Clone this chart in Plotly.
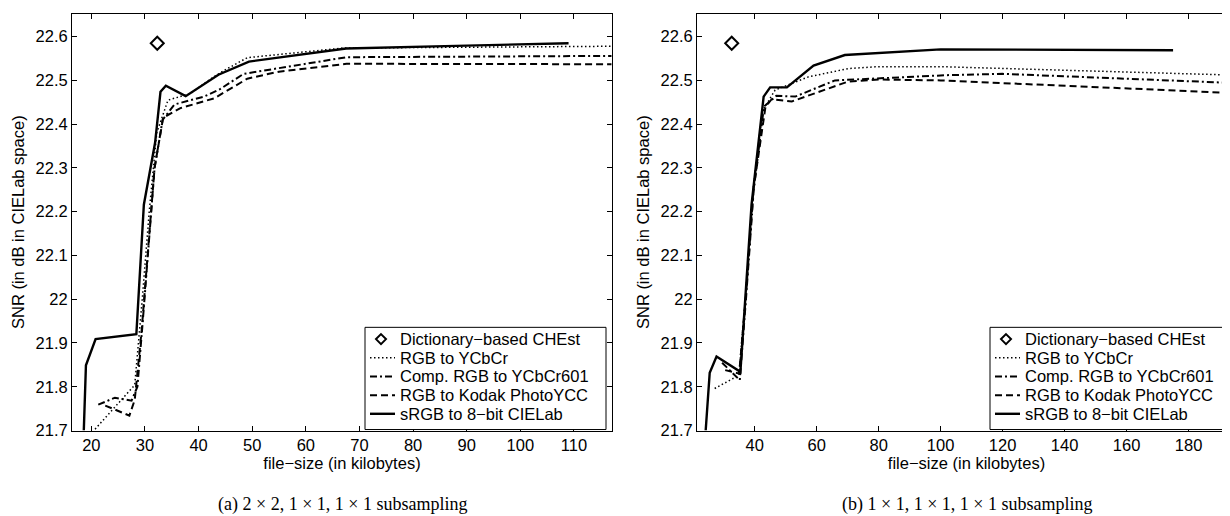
import plotly.graph_objects as go

# ---------------- Panel (a): 2x2, 1x1, 1x1 subsampling ----------------
a_dict_x = [32.3]
a_dict_y = [22.585]

a_ycbcr_x = [20.7, 24.5, 28.1, 29.5, 30.8, 32.2, 34.3, 38.5, 42.2, 44.8, 49.1, 67.0, 117.0]
a_ycbcr_y = [21.703, 21.755, 21.804, 22.0, 22.2, 22.38, 22.455, 22.47, 22.503, 22.523, 22.552, 22.574, 22.578]

a_comp_x = [21.3, 24.4, 27.5, 28.6, 29.6, 30.6, 31.8, 33.3, 35.5, 41.0, 44.0, 48.4, 55.0, 67.6, 117.0]
a_comp_y = [21.759, 21.775, 21.768, 21.80, 21.95, 22.10, 22.30, 22.41, 22.445, 22.463, 22.48, 22.515, 22.528, 22.553, 22.556]

a_kodak_x = [22.6, 27.1, 28.1, 29.4, 30.5, 31.8, 33.4, 36.7, 42.9, 49.1, 55.0, 67.6, 117.0]
a_kodak_y = [21.757, 21.734, 21.77, 21.93, 22.10, 22.30, 22.415, 22.437, 22.459, 22.504, 22.52, 22.538, 22.537]

a_lab_x = [18.6, 19.0, 20.8, 28.4, 29.8, 31.9, 32.9, 33.9, 37.6, 43.7, 49.4, 67.5, 88.0, 109.0]
a_lab_y = [21.70, 21.849, 21.909, 21.92, 22.216, 22.358, 22.474, 22.488, 22.464, 22.513, 22.543, 22.573, 22.579, 22.585]

# ---------------- Panel (b): 1x1, 1x1, 1x1 subsampling ----------------
b_dict_x = [32.6]
b_dict_y = [22.585]

b_ycbcr_x = [27.1, 34.9, 37.0, 39.5, 42.5, 44.5, 46.6, 57.3, 70.2, 78.8, 102.0, 195.0]
b_ycbcr_y = [21.796, 21.826, 22.0, 22.25, 22.43, 22.455, 22.478, 22.508, 22.527, 22.531, 22.531, 22.512]

b_comp_x = [29.5, 35.2, 37.2, 39.7, 43.0, 47.0, 53.1, 60.5, 65.9, 102.0, 120.0, 195.0]
b_comp_y = [21.855, 21.815, 22.0, 22.25, 22.44, 22.465, 22.463, 22.485, 22.50, 22.512, 22.515, 22.494]

b_kodak_x = [30.5, 35.0, 37.1, 39.6, 43.5, 45.5, 52.0, 62.0, 70.0, 80.0, 100.0, 195.0]
b_kodak_y = [21.838, 21.83, 22.0, 22.25, 22.44, 22.457, 22.452, 22.478, 22.497, 22.502, 22.50, 22.471]

b_lab_x = [24.2, 25.5, 27.7, 35.4, 39.0, 42.9, 45.0, 50.4, 59.0, 69.1, 100.0, 120.0, 175.0]
b_lab_y = [21.70, 21.832, 21.869, 21.834, 22.216, 22.463, 22.484, 22.484, 22.534, 22.558, 22.571, 22.570, 22.569]

series_names = ["Dictionary\u2212based CHEst", "RGB to YCbCr", "Comp. RGB to YCbCr601",
                "RGB to Kodak PhotoYCC", "sRGB to 8\u2212bit CIELab"]

y_ticks = [21.7, 21.8, 21.9, 22.0, 22.1, 22.2, 22.3, 22.4, 22.5, 22.6]
y_ticktext = ["21.7", "21.8", "21.9", "22", "22.1", "22.2", "22.3", "22.4", "22.5", "22.6"]
a_x_ticks = [20, 30, 40, 50, 60, 70, 80, 90, 100, 110]
b_x_ticks = [40, 60, 80, 100, 120, 140, 160, 180]

captions = ["(a) 2 \u00d7 2, 1 \u00d7 1, 1 \u00d7 1 subsampling",
            "(b) 1 \u00d7 1, 1 \u00d7 1, 1 \u00d7 1 subsampling"]

FONT = "Liberation Sans, Arial, Helvetica, sans-serif"
FS = 16.5
W, H = 1230, 516
styles = [
    dict(dash="1.5px,2.5px", width=1.5),
    dict(dash="7px,3px,2px,3px", width=2),
    dict(dash="7px,4px", width=2),
    dict(dash="solid", width=2.4),
]

fig = go.Figure()

panels = [
    ("x", "y", a_dict_x, a_dict_y,
     [(a_ycbcr_x, a_ycbcr_y), (a_comp_x, a_comp_y), (a_kodak_x, a_kodak_y), (a_lab_x, a_lab_y)]),
    ("x2", "y2", b_dict_x, b_dict_y,
     [(b_ycbcr_x, b_ycbcr_y), (b_comp_x, b_comp_y), (b_kodak_x, b_kodak_y), (b_lab_x, b_lab_y)]),
]

for xa, ya, dx, dy, lines in panels:
    fig.add_trace(go.Scatter(
        x=dx, y=dy, mode="markers", name=series_names[0], xaxis=xa, yaxis=ya,
        marker=dict(symbol="diamond-open", size=10, color="black", line=dict(width=2, color="black")),
    ))
    for i, (lx, ly) in enumerate(lines):
        fig.add_trace(go.Scatter(
            x=lx, y=ly, mode="lines", name=series_names[i + 1], xaxis=xa, yaxis=ya,
            line=dict(color="black", **styles[i]),
        ))

axis_common = dict(
    showline=True, linecolor="black", linewidth=1, mirror="ticks",
    ticks="inside", ticklen=5, tickcolor="black", tickwidth=1,
    showgrid=False, zeroline=False,
    tickfont=dict(family=FONT, size=FS, color="black"),
)

L0, L1 = 64 / W, 604 / W
R0, R1 = 689 / W, 1228 / W
Y0, Y1 = 1 - 430 / H, 1 - 6 / H

xtitle = dict(text="file\u2212size (in kilobytes)", standoff=2, font=dict(family=FONT, size=FS))
ytitle = dict(text="SNR (in dB in CIELab space)", standoff=6, font=dict(family=FONT, size=FS))

fig.update_layout(
    width=W, height=H,
    margin=dict(l=0, r=0, t=0, b=0),
    paper_bgcolor="white", plot_bgcolor="white",
    font=dict(family=FONT, size=FS, color="black"),
    showlegend=False,
    xaxis=dict(domain=[L0, L1], range=[16.4, 117.1], anchor="y",
               tickvals=a_x_ticks, ticktext=[str(v) for v in a_x_ticks], title=xtitle, **axis_common),
    yaxis=dict(domain=[Y0, Y1], range=[21.7, 22.652], anchor="x",
               tickvals=y_ticks, ticktext=y_ticktext, title=ytitle, **axis_common),
    xaxis2=dict(domain=[R0, R1], range=[21.4, 195.3], anchor="y2",
                tickvals=b_x_ticks, ticktext=[str(v) for v in b_x_ticks], title=xtitle, **axis_common),
    yaxis2=dict(domain=[Y0, Y1], range=[21.7, 22.652], anchor="x2",
                tickvals=y_ticks, ticktext=y_ticktext, title=ytitle, **axis_common),
)

# ---- legends (box, samples, labels) in paper coordinates ----
def px(x):
    return x / W


def py(y):
    return 1 - y / H


row_y = [337, 356, 375, 394, 413]
legend_left = [357, 982]
legend_w = 241
for lx in legend_left:
    fig.add_shape(type="rect", xref="paper", yref="paper",
                  x0=px(lx), x1=px(lx + legend_w), y0=py(429), y1=py(325),
                  line=dict(color="black", width=1), fillcolor="white", layer="above")
    # diamond sample
    fig.add_shape(type="path", xref="paper", yref="paper", xsizemode="pixel", ysizemode="pixel",
                  xanchor=px(lx + 16), yanchor=py(row_y[0]),
                  path="M 0 5 L 5 0 L 0 -5 L -5 0 Z",
                  line=dict(color="black", width=2), fillcolor="rgba(0,0,0,0)", layer="above")
    for i in range(4):
        st = styles[i]
        fig.add_shape(type="line", xref="paper", yref="paper",
                      x0=px(lx + 5), x1=px(lx + 30), y0=py(row_y[i + 1]), y1=py(row_y[i + 1]),
                      line=dict(color="black", width=st["width"], dash=st["dash"]), layer="above")
    for i, name in enumerate(series_names):
        fig.add_annotation(x=px(lx + 33), y=py(row_y[i]), xref="paper", yref="paper",
                           text=name, showarrow=False, xanchor="left", yanchor="middle",
                           font=dict(family=FONT, size=FS, color="black"))

for cx, txt in zip([(L0 + L1) / 2, (R0 + R1) / 2], captions):
    fig.add_annotation(x=cx, y=py(505), xref="paper", yref="paper", text=txt,
                       showarrow=False, xanchor="center", yanchor="middle",
                       font=dict(family="Liberation Serif, Times New Roman, serif", size=18, color="black"))

fig.write_html("out.html")
